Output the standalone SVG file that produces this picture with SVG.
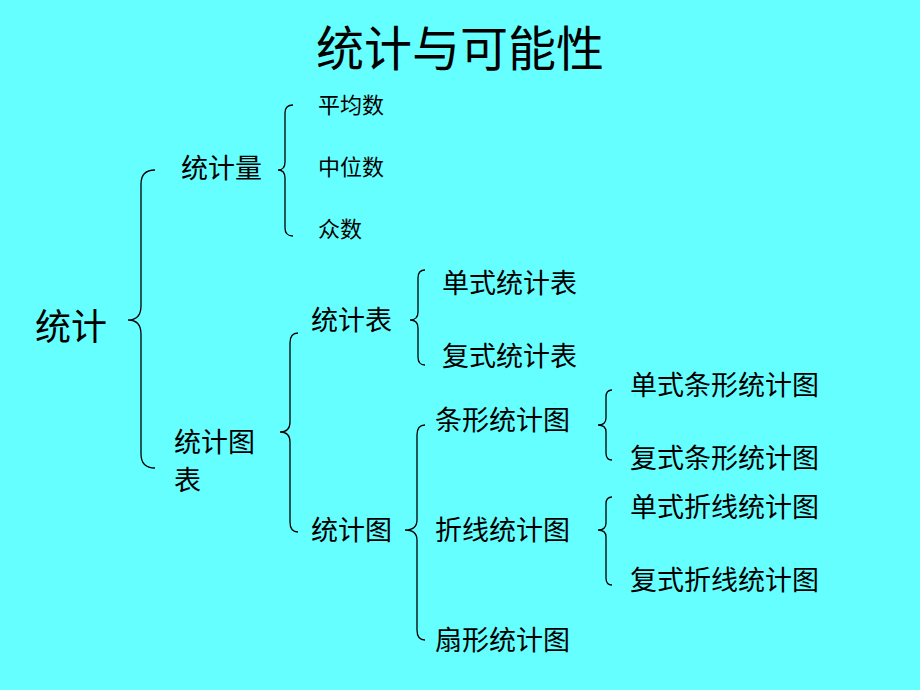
<svg xmlns="http://www.w3.org/2000/svg" width="920" height="690" viewBox="0 0 920 690">
<style>
text{font-family:"Noto Sans CJK SC","Noto Sans CJK JP",sans-serif;fill:#000}
.b{fill:none;stroke:#000;stroke-width:1.3}
.m{font-size:27px}.s{font-size:22px}
</style>
<rect width="920" height="690" fill="#66FFFF"/>
<text x="460" y="66" font-size="48" text-anchor="middle">统计与可能性</text>
<g id="connectors">
<path class="b" d="M155,170 Q141,170 141,184 L141,306 Q141,320 128,320 Q141,320 141,334 L141,454 Q141,468 155,468"/>
<path class="b" d="M293,105 Q285,105 285,113 L285,162 Q285,170 278,170 Q285,170 285,178 L285,228 Q285,236 293,236"/>
<path class="b" d="M425,270 Q418,270 418,278 L418,312 Q418,320 410,320 Q418,320 418,328 L418,357 Q418,365 425,365"/>
<path class="b" d="M298,333 Q290,333 290,343 L290,422 Q290,432 280,432 Q290,432 290,442 L290,522 Q290,532 298,532"/>
<path class="b" d="M425,425 Q417,425 417,435 L417,520 Q417,530 405,530 Q417,530 417,540 L417,630 Q417,640 425,640"/>
<path class="b" d="M612,390 Q606,390 606,397 L606,418 Q606,425 598,425 Q606,425 606,432 L606,453 Q606,460 612,460"/>
<path class="b" d="M612,497 Q606,497 606,504 L606,523 Q606,530 598,530 Q606,530 606,537 L606,578 Q606,585 612,585"/>
</g>
<g id="n-root"><text x="35" y="340" font-size="36">统计</text></g>
<g id="n-liang"><text class="m" x="181" y="178">统计量</text></g>
<g id="n-pj"><text class="s" x="318" y="113">平均数</text></g>
<g id="n-zw"><text class="s" x="318" y="175">中位数</text></g>
<g id="n-zs"><text class="s" x="318" y="237">众数</text></g>
<g id="n-tb"><text class="m" x="174" y="452">统计图</text><text class="m" x="174" y="490">表</text></g>
<g id="n-biao"><text class="m" x="311" y="330">统计表</text></g>
<g id="n-dsb"><text class="m" x="442" y="293">单式统计表</text></g>
<g id="n-fsb"><text class="m" x="442" y="366">复式统计表</text></g>
<g id="n-tu"><text class="m" x="311" y="540">统计图</text></g>
<g id="n-tx"><text class="m" x="435" y="430">条形统计图</text></g>
<g id="n-zx"><text class="m" x="435" y="540">折线统计图</text></g>
<g id="n-sx"><text class="m" x="435" y="650">扇形统计图</text></g>
<g id="n-dtx"><text class="m" x="630" y="395">单式条形统计图</text></g>
<g id="n-ftx"><text class="m" x="630" y="468">复式条形统计图</text></g>
<g id="n-dzx"><text class="m" x="630" y="517">单式折线统计图</text></g>
<g id="n-fzx"><text class="m" x="630" y="590">复式折线统计图</text></g>
</svg>
